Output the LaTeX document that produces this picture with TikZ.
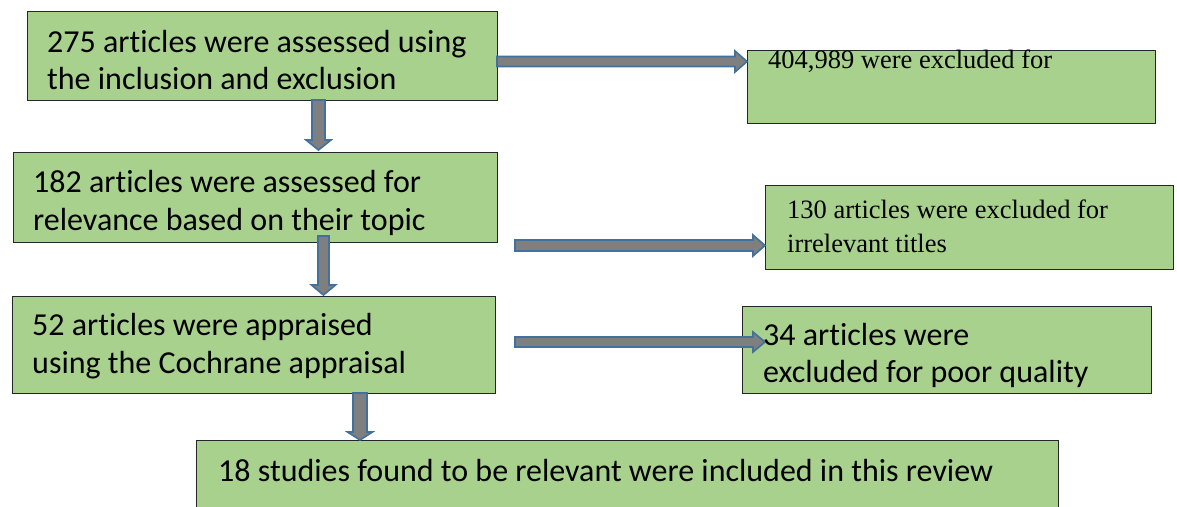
\documentclass[tikz,border=0pt]{standalone}
\usepackage{fontspec}
\setmainfont{Carlito}[Ligatures={NoCommon}]
\newfontfamily\timesfont{Liberation Serif}
\usetikzlibrary{calc}
\definecolor{boxgreen}{HTML}{A9D18E}
\definecolor{arrgray}{HTML}{7F7F7F}
\definecolor{arrblue}{HTML}{41719C}
\tikzset{
  box/.style={draw=black!85, line width=1pt, fill=boxgreen},
  calt/.style={anchor=base west, inner sep=0pt, font=\fontsize{32}{37}\selectfont},
  timt/.style={anchor=base west, inner sep=0pt, font=\timesfont\fontsize{26.5}{32}\selectfont},
  arr/.style={fill=arrgray, draw=arrblue, line width=1.6pt, line join=miter}
}
% horizontal block arrow: start, end, shaft half, head half, head length
\newcommand{\harr}[5]{%
  \path[arr] let \p1=(#1), \p2=(#2) in
    (\x1,\y1+#3) -- (\x2-#5,\y1+#3) -- (\x2-#5,\y1+#4) -- (\x2,\y1)
    -- (\x2-#5,\y1-#4) -- (\x2-#5,\y1-#3) -- (\x1,\y1-#3) -- cycle;}
% vertical (downward) block arrow
\newcommand{\varr}[5]{%
  \path[arr] let \p1=(#1), \p2=(#2) in
    (\x1-#3,\y1) -- (\x1-#3,\y2+#5) -- (\x1-#4,\y2+#5) -- (\x1,\y2)
    -- (\x1+#4,\y2+#5) -- (\x1+#3,\y2+#5) -- (\x1+#3,\y1) -- cycle;}
\begin{document}
\begin{tikzpicture}[x=1pt,y=-1pt]
\useasboundingbox (0,0) rectangle (1177,506);
\clip (0,0) rectangle (1177,506);
\fill[white] (0,0) rectangle (1177,506);
% boxes
\draw[box] (27,11) rectangle (497,100);
\draw[box] (747,50) rectangle (1155,123);
\draw[box] (13,152) rectangle (497,242);
\draw[box] (765,185) rectangle (1173,269);
\draw[box] (12,296) rectangle (495,393);
\draw[box] (742,306) rectangle (1151,393);
\draw[box] (196,440) rectangle (1058,530);
% arrow end points
\coordinate (a1s) at (497,61.5);  \coordinate (a1e) at (747,61.5);
\coordinate (a3s) at (515,245.5); \coordinate (a3e) at (765,245.5);
\coordinate (a5s) at (515,342);   \coordinate (a5e) at (765,342);
\coordinate (a2s) at (318.5,100); \coordinate (a2e) at (318.5,150);
\coordinate (a4s) at (323.5,236); \coordinate (a4e) at (323.5,295);
\coordinate (a6s) at (360,393);   \coordinate (a6e) at (360,440);
\harr{a1s}{a1e}{5pt}{10.5pt}{12pt}
\harr{a3s}{a3e}{5.5pt}{10.5pt}{12pt}
\harr{a5s}{a5e}{5pt}{10pt}{12pt}
\varr{a2s}{a2e}{6.5pt}{12.5pt}{10pt}
\varr{a4s}{a4e}{5.5pt}{12pt}{10pt}
\varr{a6s}{a6e}{7pt}{12.5pt}{8pt}
% texts
\node[calt] (t1a) at (47,52) {275 articles were assessed using};
\node[calt] (t1b) at (47,89) {the inclusion and exclusion};
\node[timt] (t2a) at (768,68) {404,989 were excluded for};
\node[calt] (t3a) at (33,192) {182 articles were assessed for};
\node[calt] (t3b) at (33,230) {relevance based on their topic};
\node[timt] (t4a) at (787,218) {130 articles were excluded for};
\node[timt] (t4b) at (787,252) {irrelevant titles};
\node[calt] (t5a) at (32,335) {52 articles were appraised};
\node[calt] (t5b) at (32,373) {using the Cochrane appraisal};
\node[calt] (t6a) at (763,345) {34 articles were};
\node[calt] (t6b) at (763,382) {excluded for poor quality};
\node[calt] (t7a) at (218,481) {18 studies found to be relevant were included in this review};
\end{tikzpicture}
\end{document}
